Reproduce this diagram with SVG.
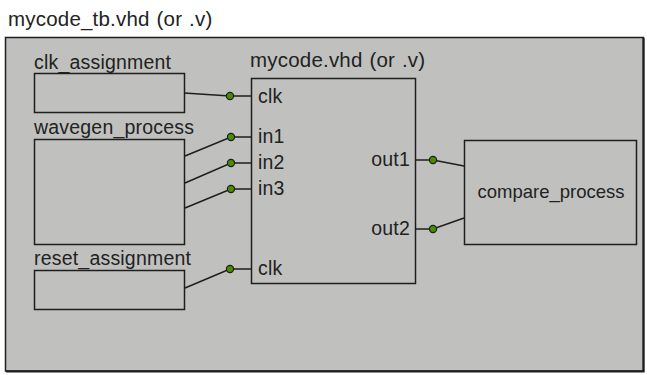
<svg xmlns="http://www.w3.org/2000/svg" width="647" height="375" viewBox="0 0 647 375">
<style>
text{font-family:"Liberation Sans",Arial,sans-serif;font-size:19.5px;fill:#222222;letter-spacing:0.2px}
.title{font-size:20.5px;word-spacing:1px}
.box{fill:#c0c1bf;stroke:#1e1e1e;stroke-width:1.5}
.w{stroke:#1e1e1e;stroke-width:1.5;fill:none}
.dot{fill:#4a8c00;stroke:#1e1e1e;stroke-width:1.2}
</style>
<rect width="647" height="375" fill="#ffffff"/>
<g id="testbench">
<text class="title" x="8" y="26">mycode_tb.vhd (or .v)</text>
<rect class="box" x="5.5" y="37.5" width="638" height="333.5"/>
<path d="M643.5 38 V371.5 H6" fill="none" stroke="#1e1e1e" stroke-width="2.2"/>
</g>
<g id="clk_assignment">
<text x="34" y="69">clk_assignment</text>
<rect class="box" x="34.5" y="73.5" width="150" height="39"/>
</g>
<g id="wavegen_process">
<text x="34" y="134">wavegen_process</text>
<rect class="box" x="34.5" y="139.5" width="150" height="105"/>
</g>
<g id="reset_assignment">
<text x="34" y="265">reset_assignment</text>
<rect class="box" x="34.5" y="270.5" width="150" height="39"/>
</g>
<g id="mycode">
<text class="title" x="250" y="67">mycode.vhd (or .v)</text>
<rect class="box" x="251.5" y="78.5" width="164" height="205"/>
<text x="258" y="103">clk</text>
<text x="258" y="143">in1</text>
<text x="258" y="169">in2</text>
<text x="258" y="195">in3</text>
<text x="258" y="275">clk</text>
<text x="410" y="166" text-anchor="end">out1</text>
<text x="410" y="235" text-anchor="end">out2</text>
</g>
<g id="compare_process">
<rect class="box" x="464.5" y="140.5" width="172" height="104"/>
<text x="551" y="198" text-anchor="middle" style="font-size:18.5px;letter-spacing:0">compare_process</text>
</g>
<g id="connectors">
<path class="w" d="M184 93 L230 96 H251"/>
<path class="w" d="M185 156 L231 137 H251"/>
<path class="w" d="M185 183 L231 163 H251"/>
<path class="w" d="M185 208 L231 189 H251"/>
<path class="w" d="M185 288 L230 269 H251"/>
<path class="w" d="M416 160 H433 L464 166"/>
<path class="w" d="M416 229 H433 L464 218"/>
<circle class="dot" cx="230" cy="96" r="3.6"/>
<circle class="dot" cx="231" cy="137" r="3.6"/>
<circle class="dot" cx="231" cy="163" r="3.6"/>
<circle class="dot" cx="231" cy="189" r="3.6"/>
<circle class="dot" cx="230" cy="269" r="3.6"/>
<circle class="dot" cx="433" cy="160" r="3.6"/>
<circle class="dot" cx="433" cy="229" r="3.6"/>
</g>
</svg>
